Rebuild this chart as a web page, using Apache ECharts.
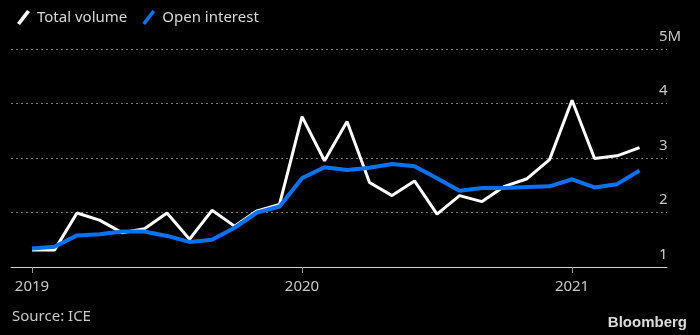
<!DOCTYPE html>
<html>
<head>
<meta charset="utf-8">
<script src="https://cdn.jsdelivr.net/npm/echarts@6/dist/echarts.min.js"></script>
<style>
html,body{margin:0;padding:0;background:#000;}
#chart{width:700px;height:335px;}
</style>
</head>
<body>
<div id="chart"></div>
<script>
// Months since Jan 2019 (0 = Jan 2019 ... 27 = Apr 2021)
var months = [0,1,2,3,4,5,6,7,8,9,10,11,12,13,14,15,16,17,18,19,20,21,22,23,24,25,26,27];
// Values in millions
var totalVolume = [1.31,1.31,1.99,1.86,1.63,1.70,1.99,1.51,2.04,1.75,2.03,2.15,3.76,2.95,3.67,2.55,2.31,2.58,1.97,2.31,2.20,2.48,2.62,2.97,4.06,2.99,3.04,3.19];
var openInterest = [1.34,1.37,1.58,1.60,1.65,1.65,1.57,1.46,1.50,1.72,2.00,2.11,2.63,2.83,2.78,2.82,2.89,2.85,2.63,2.40,2.45,2.45,2.47,2.48,2.61,2.46,2.52,2.77];
var yearTicks = [0,12,24];
var yearLabels = ['2019','2020','2021'];
var seriesNames = ['Total volume','Open interest'];

function pairs(vals){ return months.map(function(m,i){ return [m, vals[i]]; }); }

var chart = echarts.init(document.getElementById('chart'));
var slash = 'path://M0,13 L10,0 L13,2 L3,15 Z';
chart.setOption({
  backgroundColor: '#000',
  animation: false,
  legend: {
    left: 12, top: 5,
    itemWidth: 13, itemHeight: 15, itemGap: 15,
    textStyle: {color: '#d8d8d8', fontSize: 15, fontFamily: 'Noto Sans', padding: [0,0,0,2]},
    data: [
      {name: seriesNames[0], icon: slash, itemStyle: {color: '#ffffff'}},
      {name: seriesNames[1], icon: slash, itemStyle: {color: '#0a72ef'}}
    ]
  },
  grid: {left: 11, right: 33, top: 49, bottom: 68, containLabel: false},
  xAxis: {
    type: 'value', min: -0.933, max: 28.22,
    axisLine: {show: true, lineStyle: {color: '#d0d0d0', width: 1}},
    axisTick: {show: true, customValues: yearTicks, length: 6, lineStyle: {color: '#999'}},
    axisLabel: {
      customValues: yearTicks, margin: 12,
      color: '#c8c8c8', fontSize: 15, fontFamily: 'Noto Sans',
      formatter: function(v){ return yearLabels[yearTicks.indexOf(v)]; }
    },
    splitLine: {show: false}
  },
  yAxis: {
    type: 'value', position: 'right', min: 1, max: 5, interval: 1,
    axisLine: {show: false}, axisTick: {show: false},
    axisLabel: {
      margin: -8, align: 'left', verticalAlign: 'bottom', padding: [0,0,5,0],
      color: '#c8c8c8', fontSize: 15, fontFamily: 'Noto Sans',
      formatter: function(v){ return v === 5 ? '5M' : String(v); }
    },
    splitLine: {show: true, lineStyle: {color: '#777', type: [2,3], width: 1}}
  },
  series: [
    {name: seriesNames[0], type: 'line', data: pairs(totalVolume), symbol: 'none',
     lineStyle: {color: '#ffffff', width: 3}, itemStyle: {color: '#ffffff'}},
    {name: seriesNames[1], type: 'line', data: pairs(openInterest), symbol: 'none',
     lineStyle: {color: '#0a72ef', width: 4}, itemStyle: {color: '#0a72ef'}}
  ],
  graphic: [
    {type: 'text', left: 12, top: 309, style: {text: 'Source: ICE', fill: '#c8c8c8', font: '15px "Noto Sans"'}},
    {type: 'text', right: 13, top: 315, style: {text: 'Bloomberg', fill: '#dcdcdc', font: 'bold 15px "Liberation Sans"'}}
  ]
});
</script>
</body>
</html>
